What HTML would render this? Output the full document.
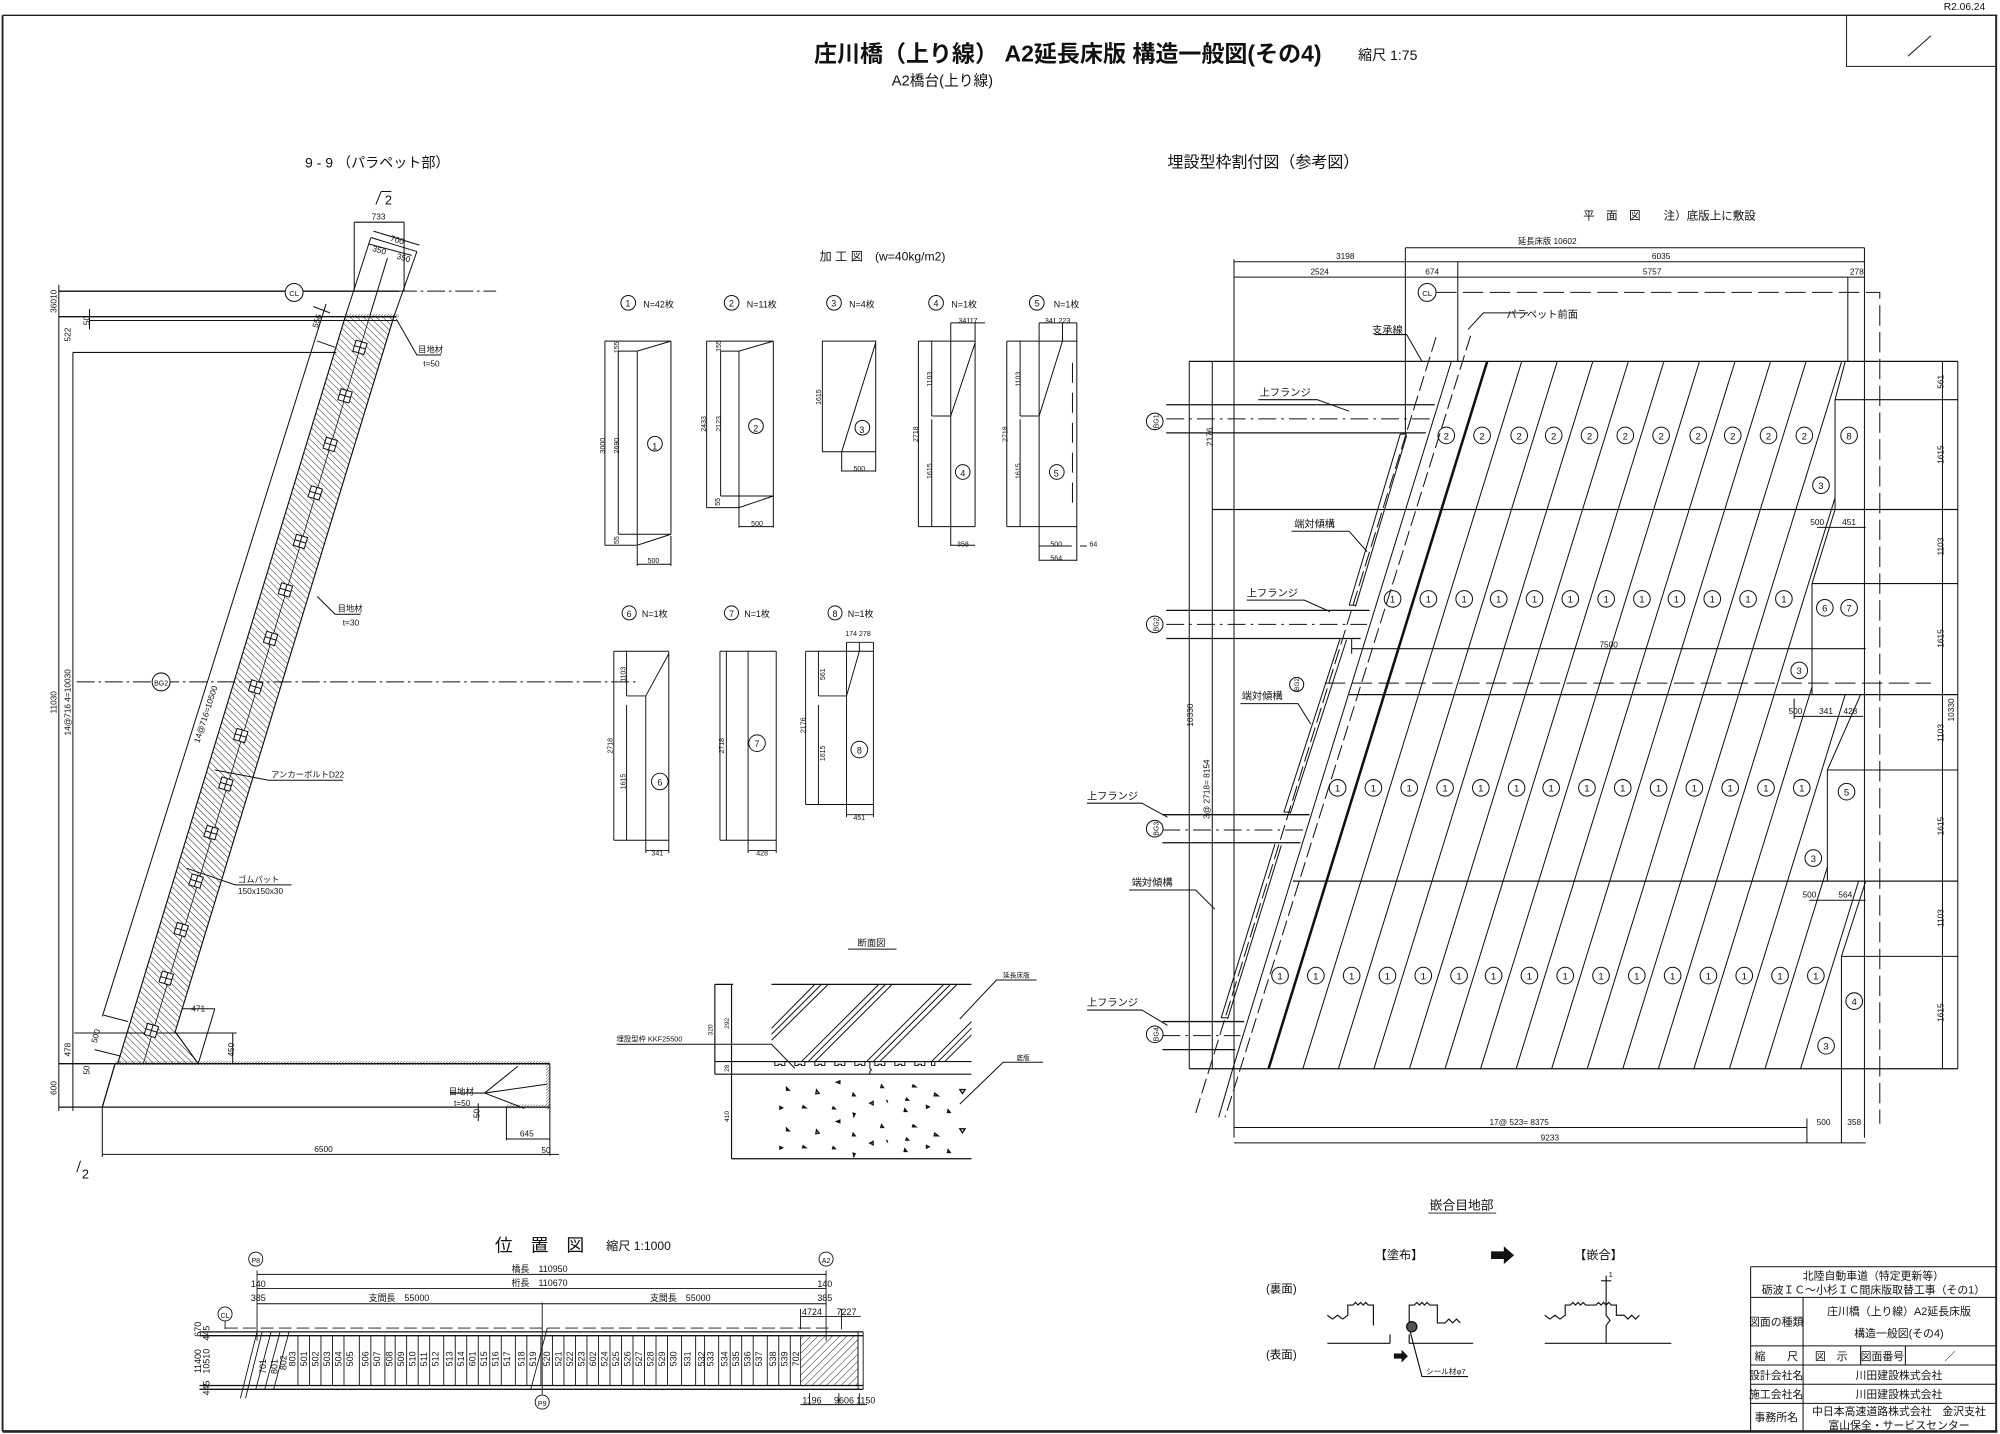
<!DOCTYPE html>
<html><head><meta charset="utf-8"><style>
html,body{margin:0;padding:0;background:#fff;}
svg{display:block;}
text{font-family:"Liberation Sans","Noto Sans CJK JP",sans-serif;fill:#111;}
</style></head><body>
<svg width="2000" height="1434" viewBox="0 0 1564 1123" preserveAspectRatio="none" xmlns="http://www.w3.org/2000/svg">
<defs>
<pattern id="h1" width="3.6" height="3.6" patternUnits="userSpaceOnUse" patternTransform="rotate(-45)"><line x1="0" y1="0" x2="0" y2="3.6" stroke="#111" stroke-width="0.7"/></pattern>
<pattern id="h2" width="4" height="4" patternUnits="userSpaceOnUse" patternTransform="rotate(45)"><line x1="0" y1="0" x2="0" y2="4" stroke="#111" stroke-width="0.7"/></pattern>
<pattern id="h3" width="1.6" height="1.6" patternUnits="userSpaceOnUse" patternTransform="rotate(45)"><line x1="0" y1="0" x2="0" y2="1.6" stroke="#111" stroke-width="0.6"/></pattern>
<clipPath id="deck"><polygon points="1163,283 1443,283 1435,313 1435,399 1417,457 1417,544 1455,544 1429,603 1429,690 1459,690 1440,749 1440,837 992,837"/></clipPath>
</defs>
<rect width="1564" height="1123" fill="#fff"/>
<g fill="none" stroke="#222">
<line x1="2" y1="12" x2="1562" y2="12" stroke-width="1"/>
<line x1="2" y1="12" x2="2" y2="1121" stroke-width="1.5"/>
<line x1="1561" y1="12" x2="1561" y2="1121" stroke-width="1.5"/>
<line x1="2" y1="1121" x2="1562" y2="1121" stroke-width="2"/>
<rect x="1444" y="12" width="117" height="40" stroke-width="0.8"/>
<line x1="1492" y1="44" x2="1510" y2="28" stroke-width="0.8"/>
</g>
<text x="1520" y="8" font-size="8">R2.06.24</text>
<text x="835" y="48" font-size="18" font-weight="bold" text-anchor="middle">庄川橋（上り線） A2延長床版 構造一般図(その4)</text>
<text x="1062" y="47" font-size="11">縮尺 1:75</text>
<text x="737" y="67" font-size="11.5" text-anchor="middle">A2橋台(上り線)</text>

<text x="295" y="131" font-size="11" text-anchor="middle">9 - 9 （パラペット部）</text>
<g fill="none" stroke="#111" stroke-width="0.8">
<path d="M294,160 l4,-10 M298,150 h8"/>
<path d="M60,918 l3,-9"/>
</g>
<text x="301" y="160" font-size="10">2</text>
<text x="64" y="923" font-size="10">2</text>
<polygon points="270,248 308,248 137,808 155,833 92,833" fill="url(#h1)" stroke="#111" stroke-width="0.9"/>
<rect x="270" y="246" width="42" height="3" fill="url(#h3)"/>
<g fill="none" stroke="#111" stroke-width="0.8">
<line x1="46" y1="228" x2="312" y2="228" stroke-width="1.1"/>
<line x1="312" y1="228" x2="388" y2="228" stroke-dasharray="14,3,2,3"/>
<line x1="46" y1="248" x2="310" y2="248" stroke-width="1.1"/>
<line x1="70" y1="251" x2="310" y2="251"/>
<line x1="57" y1="276" x2="263" y2="276"/>
<line x1="46" y1="223" x2="46" y2="870"/>
<line x1="57" y1="276" x2="57" y2="870"/>
<line x1="70" y1="242" x2="70" y2="258"/>
<line x1="290" y1="186" x2="270" y2="248"/>
<line x1="326" y1="197" x2="308" y2="248"/>
<line x1="303" y1="202" x2="289" y2="248"/>
<line x1="290" y1="186" x2="326" y2="197"/>
<line x1="277" y1="174" x2="316" y2="174"/>
<line x1="277" y1="174" x2="277" y2="228"/>
<line x1="316" y1="174" x2="316" y2="228"/>
<line x1="292" y1="181" x2="328" y2="192"/>
<line x1="288" y1="191" x2="322" y2="200"/>
<line x1="289" y1="248" x2="112" y2="833" stroke-width="0.6"/>
<line x1="255" y1="238" x2="80" y2="796"/>
<line x1="245" y1="240" x2="258" y2="245"/>
<line x1="248" y1="267" x2="262" y2="272"/>
<line x1="90" y1="833" x2="80" y2="867" stroke-width="1"/>
<line x1="46" y1="833" x2="430" y2="833" stroke-width="1"/>
<line x1="46" y1="867" x2="430" y2="867" stroke-width="1"/>
<line x1="430" y1="833" x2="430" y2="905"/>
<line x1="80" y1="867" x2="80" y2="906"/>
<line x1="80" y1="904" x2="437" y2="904"/>
<line x1="396" y1="867" x2="396" y2="893"/>
<line x1="396" y1="892" x2="430" y2="892"/>
<line x1="58" y1="809" x2="185" y2="809"/>
<line x1="182" y1="809" x2="182" y2="833"/>
<line x1="142" y1="790" x2="168" y2="790"/>
<line x1="168" y1="790" x2="155" y2="833"/>
<line x1="81" y1="795" x2="100" y2="800"/>
<line x1="74" y1="822" x2="94" y2="827"/>
<line x1="379" y1="856" x2="405" y2="835"/>
<line x1="379" y1="856" x2="428" y2="849"/>
<line x1="379" y1="856" x2="410" y2="868"/>
<line x1="352" y1="856" x2="379" y2="856"/>
<line x1="374" y1="864" x2="374" y2="878"/>
<path d="M310,250 L326,278 H345"/>
<path d="M248,467 L262,481 H282"/>
<path d="M168,603 L210,611 H268"/>
<path d="M146,680 L184,693 H228"/>
<line x1="60" y1="534" x2="500" y2="534" stroke-dasharray="14,3,2,3"/>
<circle cx="126" cy="534" r="7" fill="#fff"/>
<circle cx="230" cy="229" r="7" fill="#fff"/>
</g>
<rect x="90" y="831" width="340" height="3" fill="url(#h3)"/>
<rect x="427" y="833" width="3" height="36" fill="url(#h3)"/>
<rect x="396" y="865" width="34" height="3" fill="url(#h3)"/>
<g fill="#fff" stroke="#111" stroke-width="0.8">
<g transform="translate(281.5,272) rotate(17)"><rect x="-4.5" y="-4.5" width="9" height="9"/><path d="M-4.5,0H4.5M0,-4.5V4.5" fill="none"/></g>
<g transform="translate(269.8,310) rotate(17)"><rect x="-4.5" y="-4.5" width="9" height="9"/><path d="M-4.5,0H4.5M0,-4.5V4.5" fill="none"/></g>
<g transform="translate(258.2,348) rotate(17)"><rect x="-4.5" y="-4.5" width="9" height="9"/><path d="M-4.5,0H4.5M0,-4.5V4.5" fill="none"/></g>
<g transform="translate(246.5,386) rotate(17)"><rect x="-4.5" y="-4.5" width="9" height="9"/><path d="M-4.5,0H4.5M0,-4.5V4.5" fill="none"/></g>
<g transform="translate(234.9,424) rotate(17)"><rect x="-4.5" y="-4.5" width="9" height="9"/><path d="M-4.5,0H4.5M0,-4.5V4.5" fill="none"/></g>
<g transform="translate(223.2,462) rotate(17)"><rect x="-4.5" y="-4.5" width="9" height="9"/><path d="M-4.5,0H4.5M0,-4.5V4.5" fill="none"/></g>
<g transform="translate(211.6,500) rotate(17)"><rect x="-4.5" y="-4.5" width="9" height="9"/><path d="M-4.5,0H4.5M0,-4.5V4.5" fill="none"/></g>
<g transform="translate(199.9,538) rotate(17)"><rect x="-4.5" y="-4.5" width="9" height="9"/><path d="M-4.5,0H4.5M0,-4.5V4.5" fill="none"/></g>
<g transform="translate(188.3,576) rotate(17)"><rect x="-4.5" y="-4.5" width="9" height="9"/><path d="M-4.5,0H4.5M0,-4.5V4.5" fill="none"/></g>
<g transform="translate(176.6,614) rotate(17)"><rect x="-4.5" y="-4.5" width="9" height="9"/><path d="M-4.5,0H4.5M0,-4.5V4.5" fill="none"/></g>
<g transform="translate(165,652) rotate(17)"><rect x="-4.5" y="-4.5" width="9" height="9"/><path d="M-4.5,0H4.5M0,-4.5V4.5" fill="none"/></g>
<g transform="translate(153.3,690) rotate(17)"><rect x="-4.5" y="-4.5" width="9" height="9"/><path d="M-4.5,0H4.5M0,-4.5V4.5" fill="none"/></g>
<g transform="translate(141.7,728) rotate(17)"><rect x="-4.5" y="-4.5" width="9" height="9"/><path d="M-4.5,0H4.5M0,-4.5V4.5" fill="none"/></g>
<g transform="translate(130,766) rotate(17)"><rect x="-4.5" y="-4.5" width="9" height="9"/><path d="M-4.5,0H4.5M0,-4.5V4.5" fill="none"/></g>
<g transform="translate(118.4,807) rotate(17)"><rect x="-4.5" y="-4.5" width="9" height="9"/><path d="M-4.5,0H4.5M0,-4.5V4.5" fill="none"/></g>
</g>
<g font-size="6.5">
<text x="230" y="232" text-anchor="middle" font-size="6">CL</text>
<text x="126" y="537" text-anchor="middle" font-size="5.5">BG2</text>
<text x="296" y="172" text-anchor="middle">733</text>
<text x="310" y="190" text-anchor="middle" transform="rotate(17 310 190)">700</text>
<text x="296" y="198" text-anchor="middle" transform="rotate(17 296 198)">350</text>
<text x="315" y="204" text-anchor="middle" transform="rotate(17 315 204)">350</text>
<text transform="translate(250,252) rotate(-73)" text-anchor="middle">556</text>
<text transform="translate(44,236) rotate(-90)" text-anchor="middle">36010</text>
<text transform="translate(70,251) rotate(-90)" text-anchor="middle">50</text>
<text transform="translate(55,262) rotate(-90)" text-anchor="middle">522</text>
<text transform="translate(44,550) rotate(-90)" text-anchor="middle">11030</text>
<text transform="translate(55,550) rotate(-90)" text-anchor="middle">14@716 4=10030</text>
<text transform="translate(55,822) rotate(-90)" text-anchor="middle">478</text>
<text transform="translate(44,852) rotate(-90)" text-anchor="middle">600</text>
<text transform="translate(70,838) rotate(-90)" text-anchor="middle">50</text>
<text transform="translate(77,812) rotate(-73)" text-anchor="middle">500</text>
<text transform="translate(163,560) rotate(-72)" text-anchor="middle">14@716=10500</text>
<text x="155" y="792" text-anchor="middle">471</text>
<text transform="translate(183,822) rotate(-90)" text-anchor="middle">450</text>
<text x="327" y="276">目地材</text>
<text x="331" y="287">t=50</text>
<text x="264" y="479">目地材</text>
<text x="268" y="490">t=30</text>
<text x="212" y="609">アンカーボルトD22</text>
<text x="186" y="691">ゴムパット</text>
<text x="186" y="700">150x150x30</text>
<text x="351" y="857">目地材</text>
<text x="355" y="866">t=50</text>
<text transform="translate(375,872) rotate(-90)" text-anchor="middle">50</text>
<text x="412" y="890" text-anchor="middle">645</text>
<text x="427" y="903" text-anchor="middle">50</text>
<text x="253" y="902" text-anchor="middle">6500</text>
</g>

<text x="641" y="204" font-size="9.5">加 工 図　(w=40kg/m2)</text>
<g transform="translate(461.3,218.9) scale(0.2608)" fill="none" stroke="#111" stroke-width="3">
<path d="M45,185H243M85,215H142L243,185M45,185V798M85,215V765M142,215V798M243,185V765M85,765H243M45,798H142L243,765M142,800V860M243,770V860M142,855H243"/>
<path d="M350,185H550M392,215H447L550,185M350,185V685M392,215V650M447,215V745M550,185V745M392,650H550M350,685H447L550,650M447,742H550"/>
<path d="M697,185H857V517H697ZM857,190L755,517M755,517V577M857,517V577M755,575H857"/>
<path d="M985,185H1155M985,742H1155M985,185V742M1025,185V410M1025,420V742M1082,130V800M1155,130V742M1025,410H1082L1155,190M1082,130H1185M1082,798H1155"/>
<path d="M1250,185H1460M1250,742H1460M1250,185V742M1290,185V410M1290,420V742M1347,130V845M1417,130V185M1460,130V845M1290,410H1347L1417,185M1347,130H1460M1347,800H1445M1347,843H1460M1470,800H1490"/>
<path d="M1447,250V700" stroke-dasharray="60,30"/>
<circle cx="195" cy="493" r="22"/><circle cx="498" cy="440" r="22"/><circle cx="817" cy="445" r="22"/><circle cx="1118" cy="578" r="22"/><circle cx="1400" cy="578" r="22"/>
<circle cx="115" cy="70" r="22"/><circle cx="425" cy="70" r="22"/><circle cx="732" cy="70" r="22"/><circle cx="1038" cy="70" r="22"/><circle cx="1340" cy="70" r="22"/>
</g>
<g font-size="7">
<text x="512" y="352" text-anchor="middle">1</text><text x="591" y="338" text-anchor="middle">2</text><text x="674" y="339" text-anchor="middle">3</text><text x="753" y="373" text-anchor="middle">4</text><text x="826" y="373" text-anchor="middle">5</text>
<text x="491" y="240" text-anchor="middle">1</text><text x="572" y="240" text-anchor="middle">2</text><text x="652" y="240" text-anchor="middle">3</text><text x="732" y="240" text-anchor="middle">4</text><text x="811" y="240" text-anchor="middle">5</text>
<text x="503" y="241" font-size="7">N=42枚</text><text x="584" y="241" font-size="7">N=11枚</text><text x="664" y="241" font-size="7">N=4枚</text><text x="744" y="241" font-size="7">N=1枚</text><text x="824" y="241" font-size="7">N=1枚</text>
<g font-size="5.5">
<text transform="translate(473,349) rotate(-90)" text-anchor="middle">3000</text>
<text transform="translate(484,349) rotate(-90)" text-anchor="middle">2690</text>
<text transform="translate(484,272) rotate(-90)" text-anchor="middle">155</text>
<text transform="translate(484,423) rotate(-90)" text-anchor="middle">55</text>
<text x="511" y="441" text-anchor="middle">500</text>
<text transform="translate(552,332) rotate(-90)" text-anchor="middle">2433</text>
<text transform="translate(564,332) rotate(-90)" text-anchor="middle">2123</text>
<text transform="translate(564,271) rotate(-90)" text-anchor="middle">155</text>
<text transform="translate(563,393) rotate(-90)" text-anchor="middle">55</text>
<text x="592" y="412" text-anchor="middle">500</text>
<text transform="translate(642,311) rotate(-90)" text-anchor="middle">1615</text>
<text x="672" y="369" text-anchor="middle">500</text>
<text x="757" y="253" text-anchor="middle">34117</text>
<text transform="translate(729,297) rotate(-90)" text-anchor="middle">1103</text>
<text transform="translate(718,340) rotate(-90)" text-anchor="middle">2718</text>
<text transform="translate(729,369) rotate(-90)" text-anchor="middle">1615</text>
<text x="753" y="428" text-anchor="middle">358</text>
<text x="827" y="253" text-anchor="middle">341 223</text>
<text transform="translate(798,297) rotate(-90)" text-anchor="middle">1103</text>
<text transform="translate(788,340) rotate(-90)" text-anchor="middle">2718</text>
<text transform="translate(798,369) rotate(-90)" text-anchor="middle">1615</text>
<text x="826" y="428" text-anchor="middle">500</text>
<text x="826" y="439" text-anchor="middle">564</text>
<text x="855" y="428" text-anchor="middle">64</text>
</g>
</g>
<g fill="none" stroke="#111" stroke-width="0.75">
<path d="M480,510H523M480,658H523M480,510V658M490,510V545M490,552V658M505,545V668M523,510V668M490,545H505L523,512M505,666H523"/>
<path d="M563,510H607M563,658H607M563,510V658M568,510V658M585,510V668M607,510V668M585,666H607"/>
<path d="M630,510H683M630,630H683M630,510V630M640,510V545M640,552V630M662,503V640M683,503V640M640,545H662L672,510M672,503V510M662,503H683M662,638H683"/>
<circle cx="516" cy="612" r="6.5"/><circle cx="592" cy="582" r="6.5"/><circle cx="672" cy="587" r="6.5"/>
<circle cx="492" cy="480" r="5.5"/><circle cx="572" cy="480" r="5.5"/><circle cx="653" cy="480" r="5.5"/>
</g>
<g font-size="7">
<text x="516" y="615" text-anchor="middle">6</text><text x="592" y="585" text-anchor="middle">7</text><text x="672" y="590" text-anchor="middle">8</text>
<text x="492" y="483" text-anchor="middle">6</text><text x="572" y="483" text-anchor="middle">7</text><text x="653" y="483" text-anchor="middle">8</text>
<text x="502" y="483">N=1枚</text><text x="582" y="483">N=1枚</text><text x="663" y="483">N=1枚</text>
<g font-size="5.5">
<text transform="translate(489,528) rotate(-90)" text-anchor="middle">1103</text>
<text transform="translate(479,584) rotate(-90)" text-anchor="middle">2718</text>
<text transform="translate(489,612) rotate(-90)" text-anchor="middle">1615</text>
<text x="514" y="670" text-anchor="middle">341</text>
<text transform="translate(566,584) rotate(-90)" text-anchor="middle">2718</text>
<text x="596" y="670" text-anchor="middle">428</text>
<text x="671" y="498" text-anchor="middle">174 278</text>
<text transform="translate(645,528) rotate(-90)" text-anchor="middle">561</text>
<text transform="translate(630,568) rotate(-90)" text-anchor="middle">2176</text>
<text transform="translate(645,590) rotate(-90)" text-anchor="middle">1615</text>
<text x="672" y="642" text-anchor="middle">451</text>
</g>
</g>

<g transform="translate(547.3,727.1) scale(0.2606)">
<text x="515" y="52" font-size="28" text-anchor="middle">断面図</text>
<g fill="none" stroke="#111" stroke-width="3">
<path d="M445,62H590"/>
<path d="M215,168H815M45,168H100M45,400H815M45,438H815M95,692H815M45,168V438M95,168V692" stroke-width="3.5"/>
<path d="M215,300L345,168M215,318L365,168M215,336L385,168"/>
<path d="M305,400L537,168M325,400L557,168M345,400L577,168"/>
<path d="M500,400L732,168M520,400L752,168M540,400L772,168"/>
<path d="M695,400L815,280M715,400L815,300M735,400L815,320"/>
<path d="M215,400h10v12h10v-4h10v4h10v-12h30v12h10v-4h10v4h10v-12h30v12h10v-4h10v4h10v-12h30v12h10v-4h10v4h10v-12h30v12h10v-4h10v4h10v-12h30v12h10v-4h10v4h10v-12h30v12h10v-4h10v4h10v-12h30v12h10v-4h10v4h10v-12h20v12h10v-12"/>
<path d="M510,400v20l5,5l-5,5v8"/>
<path d="M-250,348H215L285,420"/>
<path d="M1010,155H890L780,272M1030,402H910L780,528"/>
</g>
<g fill="none" stroke="#111" stroke-width="4">
<path d="M260,478l8,8h-8zM350,485l8,10l-10,2zM410,462l10,-4v8zM460,495l6,8h-8zM545,470l6,8h-8zM640,470l8,6h-10zM705,495l10,8h-12zM780,484h16l-8,12zM240,535l8,4l-8,4zM310,533l8,6h-10zM400,536l6,6h-8zM460,555l6,2l-4,8zM510,525l10,-5v10zM560,515l4,8M620,510l6,6h-8zM615,542l6,8h-8zM680,532l8,4l-8,4zM745,545l6,8h-8z"/>
<path d="M260,600l8,8h-8zM350,605l8,10l-10,2zM410,580l10,-4v8zM460,615l6,8h-8zM545,590l6,8h-8zM640,590l8,6h-10zM705,615l10,8h-12zM780,602h16l-8,12zM240,655l8,4l-8,4zM310,653l8,6h-10zM400,656l6,6h-8zM460,675l6,2l-4,8zM510,645l10,-5v10zM560,635l4,8M620,630l6,6h-8zM615,662l6,8h-8zM680,652l8,4l-8,4zM745,665l6,8h-8z"/>
</g>
<g font-size="20">
<text x="950" y="148" text-anchor="middle">延長床版</text>
<text x="970" y="395" text-anchor="middle">底版</text>
<text transform="translate(88,285) rotate(-90)" text-anchor="middle">292</text>
<text transform="translate(38,305) rotate(-90)" text-anchor="middle">320</text>
<text transform="translate(88,420) rotate(-90)" text-anchor="middle">28</text>
<text transform="translate(88,565) rotate(-90)" text-anchor="middle">410</text>
<text x="-250" y="340" font-size="22">埋設型枠 KKF25500</text>
</g>
</g>

<text x="387" y="980" font-size="14">位　置　図</text>
<text x="474" y="979" font-size="9.5">縮尺 1:1000</text>
<g fill="none" stroke="#111" stroke-width="0.7">
<circle cx="200" cy="986" r="5.5"/><circle cx="646" cy="986" r="5.5"/><circle cx="424" cy="1098" r="5.5"/><circle cx="176" cy="1029" r="5.5"/>
<path d="M201,998H646M201,1009H646M201,1021H646M201,995V1050M646,995V1050M176,1035V1041M626,1031H673M626,1025V1041M658,1025V1041"/>
<path d="M176,1040H652" stroke-dasharray="10,4"/>
<path d="M156,1043H675M156,1088H675M156,1046H675M156,1085H675" stroke-width="1"/>
<path d="M675,1043V1088M671,1043V1088"/>
<path d="M201,1043L188,1095M205,1043L192,1095M212,1043L200,1088M219,1043L207,1088M226,1043L214,1088"/>
<path d="M424,1092L424,1020M428,1040L415,1088"/>
<path d="M233,1046V1085M242,1046V1085M251,1046V1085M260,1046V1085M269,1046V1085M281,1046V1085M290,1046V1085M301,1046V1085M309,1046V1085M318,1046V1085M327,1046V1085M336,1046V1085M347,1046V1085M356,1046V1085M365,1046V1085M374,1046V1085M383,1046V1085M392,1046V1085M403,1046V1085M412,1046V1085M423,1046V1085M432,1046V1085M441,1046V1085M450,1046V1085M459,1046V1085M468,1046V1085M477,1046V1085M486,1046V1085M495,1046V1085M504,1046V1085M513,1046V1085M522,1046V1085M533,1046V1085M544,1046V1085M551,1046V1085M562,1046V1085M571,1046V1085M580,1046V1085M589,1046V1085M600,1046V1085M609,1046V1085M618,1046V1085"/>
<path d="M633,1091V1100M656,1091V1100M672,1091V1100M626,1100H678"/>
</g>
<polygon points="626,1046 671,1046 671,1085 626,1085" fill="url(#h2)" stroke="#111" stroke-width="0.6"/>
<g font-size="7">
<text x="200" y="989" text-anchor="middle" font-size="5.5">P8</text><text x="646" y="989" text-anchor="middle" font-size="5.5">A2</text><text x="424" y="1101" text-anchor="middle" font-size="5.5">P9</text><text x="176" y="1032" text-anchor="middle" font-size="5.5">CL</text>
<text x="422" y="996" text-anchor="middle">橋長　110950</text>
<text x="422" y="1007" text-anchor="middle">桁長　110670</text>
<text x="312" y="1019" text-anchor="middle">支間長　55000</text>
<text x="532" y="1019" text-anchor="middle">支間長　55000</text>
<text x="202" y="1008" text-anchor="middle">140</text><text x="645" y="1008" text-anchor="middle">140</text>
<text x="202" y="1019" text-anchor="middle">385</text><text x="645" y="1019" text-anchor="middle">385</text>
<text x="635" y="1030" text-anchor="middle">4724</text><text x="662" y="1030" text-anchor="middle">7227</text>
<text x="635" y="1099" text-anchor="middle">1196</text><text x="660" y="1099" text-anchor="middle">9606</text><text x="677" y="1099" text-anchor="middle">1150</text>
<text transform="translate(157,1041) rotate(-90)" text-anchor="middle">670</text>
<text transform="translate(164,1044) rotate(-90)" text-anchor="middle">445</text>
<text transform="translate(157,1066) rotate(-90)" text-anchor="middle">11400</text>
<text transform="translate(164,1066) rotate(-90)" text-anchor="middle">10510</text>
<text transform="translate(164,1087) rotate(-90)" text-anchor="middle">445</text>
</g>
<g font-size="7">
<text transform="translate(208,1076) rotate(-90)">701</text><text transform="translate(217,1076) rotate(-90)">801</text><text transform="translate(224,1073) rotate(-90)">802</text><text transform="translate(231,1070) rotate(-90)">803</text>
<text transform="translate(240,1070) rotate(-90)">501</text><text transform="translate(249,1070) rotate(-90)">502</text><text transform="translate(258,1070) rotate(-90)">503</text><text transform="translate(267,1070) rotate(-90)">504</text><text transform="translate(276,1070) rotate(-90)">505</text><text transform="translate(288,1070) rotate(-90)">506</text><text transform="translate(297,1070) rotate(-90)">507</text><text transform="translate(307,1070) rotate(-90)">508</text><text transform="translate(316,1070) rotate(-90)">509</text><text transform="translate(325,1070) rotate(-90)">510</text><text transform="translate(334,1070) rotate(-90)">511</text><text transform="translate(343,1070) rotate(-90)">512</text><text transform="translate(354,1070) rotate(-90)">513</text><text transform="translate(363,1070) rotate(-90)">514</text><text transform="translate(372,1070) rotate(-90)">601</text><text transform="translate(381,1070) rotate(-90)">515</text><text transform="translate(390,1070) rotate(-90)">516</text><text transform="translate(399,1070) rotate(-90)">517</text><text transform="translate(410,1070) rotate(-90)">518</text><text transform="translate(419,1070) rotate(-90)">519</text><text transform="translate(430,1070) rotate(-90)">520</text><text transform="translate(439,1070) rotate(-90)">521</text><text transform="translate(448,1070) rotate(-90)">522</text><text transform="translate(457,1070) rotate(-90)">523</text><text transform="translate(466,1070) rotate(-90)">602</text><text transform="translate(475,1070) rotate(-90)">524</text><text transform="translate(484,1070) rotate(-90)">525</text><text transform="translate(493,1070) rotate(-90)">526</text><text transform="translate(502,1070) rotate(-90)">527</text><text transform="translate(511,1070) rotate(-90)">528</text><text transform="translate(520,1070) rotate(-90)">529</text><text transform="translate(529,1070) rotate(-90)">530</text><text transform="translate(540,1070) rotate(-90)">531</text><text transform="translate(551,1070) rotate(-90)">532</text><text transform="translate(558,1070) rotate(-90)">533</text><text transform="translate(569,1070) rotate(-90)">534</text><text transform="translate(578,1070) rotate(-90)">535</text><text transform="translate(587,1070) rotate(-90)">536</text><text transform="translate(596,1070) rotate(-90)">537</text><text transform="translate(607,1070) rotate(-90)">538</text><text transform="translate(616,1070) rotate(-90)">539</text><text transform="translate(625,1070) rotate(-90)">702</text>
</g>

<text x="988" y="131" font-size="12.5" text-anchor="middle">埋設型枠割付図（参考図）</text>
<text x="1238" y="172" font-size="9">平　面　図　　注）底版上に敷設</text>
<g fill="none" stroke="#111" stroke-width="0.8">
<path d="M1099,194H1458M965,205H1458M965,217H1458M965,203V891M1099,194V340M1140,205V283M1445,217V283M1458,194V891"/>
<path d="M930,283H1531M948,399H1531M1055,544H1531M1011,690H1531M930,837H1531" stroke-width="1"/>
<path d="M930,283V837M948,283V837M1519,283V837M1531,283V837" />
<path d="M1435,313H1531M1417,457H1531M1429,603H1531M1440,749H1531"/>
<path d="M1443,283L1435,313V399L1417,457V544M1455,544L1429,603V690M1459,690L1440,749V837"/>
<path d="M1123,229H1470V880" stroke-dasharray="16,5"/>
<path d="M1036,535H1510" stroke-dasharray="16,5"/>
<path d="M1057,508H1459M1057,500V512"/>
<path d="M965,883H1413M1413,876V895M1440,837V895M965,895H1459M1403,561H1457M1403,547V563M1415,705H1459M1421,413H1459"/>
<g clip-path="url(#deck)">
<path d="M1190,283L1018.8,837M1217.8,283L1046.6,837M1245.6,283L1074.4,837M1273.4,283L1102.2,837M1301.2,283L1130,837M1329,283L1157.8,837M1356.8,283L1185.6,837M1384.6,283L1213.4,837M1412.4,283L1241.2,837M1440.2,283L1269,837M1468,283L1296.8,837M1495.8,283L1324.6,837M1523.6,283L1352.4,837M1551.4,283L1380.2,837M1579.2,283L1408,837"/>
</g>
<path d="M1163,283L992,837" stroke-width="2"/>
<path d="M1135,283L964,837L953,875" />
<path d="M1123,264L934,875M1150,263L958,875" stroke-dasharray="12,4"/>
<path d="M1148,258L1160,245H1195"/>
<path d="M1112,283L1100,262H1075"/>
<path d="M1095,340L1055,474M1100,341L1060,475M1055,474H1060M1095,340H1100"/>
<path d="M1048,500L1004,636M1053,501L1009,637M1004,636h5"/>
<path d="M997,661L955,797M1002,662L960,798M955,797h5"/>
<path d="M912,317H1122M912,339H1115M912,478H1071M912,500H1064M909,638H1024M909,660H1017M909,800H973M909,822H966" stroke-width="1"/>
<path d="M912,328H1120M912,489H1069M909,650H1020M909,811H970" stroke-dasharray="14,4,2,4"/>
<circle cx="903" cy="330" r="6.5" fill="#fff"/><circle cx="903" cy="489" r="6.5" fill="#fff"/><circle cx="903" cy="649" r="6.5" fill="#fff"/><circle cx="903" cy="810" r="6.5" fill="#fff"/>
<circle cx="1116" cy="229" r="7" fill="#fff"/>
<circle cx="1014" cy="536" r="5.5" fill="#fff"/>
<path d="M984,313H1030L1055,322M975,470H1020L1040,479M850,629H893L913,640M850,791H893L913,803"/>
<path d="M1010,416H1055L1069,432M970,551H1015L1025,567M883,697H935L950,712"/>
<g stroke-width="0.8">
<circle cx="1131" cy="341" r="6.5"/><circle cx="1159" cy="341" r="6.5"/><circle cx="1188" cy="341" r="6.5"/><circle cx="1215" cy="341" r="6.5"/><circle cx="1243" cy="341" r="6.5"/><circle cx="1271" cy="341" r="6.5"/><circle cx="1299" cy="341" r="6.5"/><circle cx="1328" cy="341" r="6.5"/><circle cx="1355" cy="341" r="6.5"/><circle cx="1383" cy="341" r="6.5"/><circle cx="1411" cy="341" r="6.5"/><circle cx="1446" cy="341" r="6.5"/><circle cx="1424" cy="380" r="6.5"/>
<circle cx="1089" cy="469" r="6.5"/><circle cx="1117" cy="469" r="6.5"/><circle cx="1145" cy="469" r="6.5"/><circle cx="1172" cy="469" r="6.5"/><circle cx="1200" cy="469" r="6.5"/><circle cx="1228" cy="469" r="6.5"/><circle cx="1256" cy="469" r="6.5"/><circle cx="1284" cy="469" r="6.5"/><circle cx="1311" cy="469" r="6.5"/><circle cx="1339" cy="469" r="6.5"/><circle cx="1367" cy="469" r="6.5"/><circle cx="1395" cy="469" r="6.5"/><circle cx="1427" cy="476" r="6.5"/><circle cx="1446" cy="476" r="6.5"/>
<circle cx="1407" cy="525" r="6.5"/>
<circle cx="1046" cy="617" r="6.5"/><circle cx="1074" cy="617" r="6.5"/><circle cx="1102" cy="617" r="6.5"/><circle cx="1130" cy="617" r="6.5"/><circle cx="1158" cy="617" r="6.5"/><circle cx="1186" cy="617" r="6.5"/><circle cx="1213" cy="617" r="6.5"/><circle cx="1241" cy="617" r="6.5"/><circle cx="1269" cy="617" r="6.5"/><circle cx="1297" cy="617" r="6.5"/><circle cx="1325" cy="617" r="6.5"/><circle cx="1353" cy="617" r="6.5"/><circle cx="1381" cy="617" r="6.5"/><circle cx="1409" cy="617" r="6.5"/><circle cx="1444" cy="620" r="6.5"/><circle cx="1418" cy="672" r="6.5"/>
<circle cx="1001" cy="764" r="6.5"/><circle cx="1029" cy="764" r="6.5"/><circle cx="1057" cy="764" r="6.5"/><circle cx="1085" cy="764" r="6.5"/><circle cx="1113" cy="764" r="6.5"/><circle cx="1141" cy="764" r="6.5"/><circle cx="1168" cy="764" r="6.5"/><circle cx="1196" cy="764" r="6.5"/><circle cx="1224" cy="764" r="6.5"/><circle cx="1252" cy="764" r="6.5"/><circle cx="1280" cy="764" r="6.5"/><circle cx="1308" cy="764" r="6.5"/><circle cx="1336" cy="764" r="6.5"/><circle cx="1364" cy="764" r="6.5"/><circle cx="1392" cy="764" r="6.5"/><circle cx="1420" cy="764" r="6.5"/><circle cx="1450" cy="784" r="6.5"/><circle cx="1428" cy="819" r="6.5"/>
</g>
</g>
<g font-size="7.5" text-anchor="middle">
<text x="1131" y="344">2</text><text x="1159" y="344">2</text><text x="1188" y="344">2</text><text x="1215" y="344">2</text><text x="1243" y="344">2</text><text x="1271" y="344">2</text><text x="1299" y="344">2</text><text x="1328" y="344">2</text><text x="1355" y="344">2</text><text x="1383" y="344">2</text><text x="1411" y="344">2</text><text x="1446" y="344">8</text><text x="1424" y="383">3</text>
<text x="1089" y="472">1</text><text x="1117" y="472">1</text><text x="1145" y="472">1</text><text x="1172" y="472">1</text><text x="1200" y="472">1</text><text x="1228" y="472">1</text><text x="1256" y="472">1</text><text x="1284" y="472">1</text><text x="1311" y="472">1</text><text x="1339" y="472">1</text><text x="1367" y="472">1</text><text x="1395" y="472">1</text><text x="1427" y="479">6</text><text x="1446" y="479">7</text>
<text x="1407" y="528">3</text>
<text x="1046" y="620">1</text><text x="1074" y="620">1</text><text x="1102" y="620">1</text><text x="1130" y="620">1</text><text x="1158" y="620">1</text><text x="1186" y="620">1</text><text x="1213" y="620">1</text><text x="1241" y="620">1</text><text x="1269" y="620">1</text><text x="1297" y="620">1</text><text x="1325" y="620">1</text><text x="1353" y="620">1</text><text x="1381" y="620">1</text><text x="1409" y="620">1</text><text x="1444" y="623">5</text><text x="1418" y="675">3</text>
<text x="1001" y="767">1</text><text x="1029" y="767">1</text><text x="1057" y="767">1</text><text x="1085" y="767">1</text><text x="1113" y="767">1</text><text x="1141" y="767">1</text><text x="1168" y="767">1</text><text x="1196" y="767">1</text><text x="1224" y="767">1</text><text x="1252" y="767">1</text><text x="1280" y="767">1</text><text x="1308" y="767">1</text><text x="1336" y="767">1</text><text x="1364" y="767">1</text><text x="1392" y="767">1</text><text x="1420" y="767">1</text><text x="1450" y="787">4</text><text x="1428" y="822">3</text>
</g>
<g font-size="6.5">
<text x="1210" y="191" text-anchor="middle">延長床版 10602</text>
<text x="1052" y="203" text-anchor="middle">3198</text><text x="1299" y="203" text-anchor="middle">6035</text>
<text x="1032" y="215" text-anchor="middle">2524</text><text x="1120" y="215" text-anchor="middle">674</text><text x="1292" y="215" text-anchor="middle">5757</text><text x="1452" y="215" text-anchor="middle">278</text>
<text x="1116" y="232" text-anchor="middle" font-size="6">CL</text>
<text x="1178" y="249" font-size="8">パラペット前面</text>
<text x="1073" y="261" font-size="8">支承線</text>
<text x="985" y="310" font-size="8">上フランジ</text>
<text x="975" y="467" font-size="8">上フランジ</text>
<text x="850" y="626" font-size="8">上フランジ</text>
<text x="850" y="788" font-size="8">上フランジ</text>
<text x="1012" y="413" font-size="8">端対傾構</text>
<text x="971" y="548" font-size="8">端対傾構</text>
<text x="885" y="694" font-size="8">端対傾構</text>
<text x="903" y="333" text-anchor="middle" font-size="5.5" transform="rotate(-90 903 330)">BG1</text>
<text x="903" y="492" text-anchor="middle" font-size="5.5" transform="rotate(-90 903 489)">BG2</text>
<text x="903" y="652" text-anchor="middle" font-size="5.5" transform="rotate(-90 903 649)">BG3</text>
<text x="903" y="813" text-anchor="middle" font-size="5.5" transform="rotate(-90 903 810)">BG4</text>
<text x="1014" y="538" text-anchor="middle" font-size="5" transform="rotate(-90 1014 536)">BG2</text>
<text x="1258" y="507" text-anchor="middle">7500</text>
<text x="1404" y="559" text-anchor="middle">500</text><text x="1428" y="559" text-anchor="middle">341</text><text x="1447" y="559" text-anchor="middle">428</text>
<text x="1415" y="703" text-anchor="middle">500</text><text x="1443" y="703" text-anchor="middle">564</text>
<text x="1421" y="411" text-anchor="middle">500</text><text x="1446" y="411" text-anchor="middle">451</text>
<text x="1188" y="881" text-anchor="middle">17@ 523= 8375</text>
<text x="1426" y="881" text-anchor="middle">500</text><text x="1450" y="881" text-anchor="middle">358</text>
<text x="1212" y="893" text-anchor="middle">9233</text>
<text transform="translate(948,342) rotate(-90)" text-anchor="middle">2176</text>
<text transform="translate(933,560) rotate(-90)" text-anchor="middle">10330</text>
<text transform="translate(946,618) rotate(-90)" text-anchor="middle">3@ 2718= 8154</text>
<text transform="translate(1528,556) rotate(-90)" text-anchor="middle">10330</text>
<text transform="translate(1520,299) rotate(-90)" text-anchor="middle">561</text>
<text transform="translate(1520,356) rotate(-90)" text-anchor="middle">1615</text>
<text transform="translate(1520,428) rotate(-90)" text-anchor="middle">1103</text>
<text transform="translate(1520,500) rotate(-90)" text-anchor="middle">1615</text>
<text transform="translate(1520,574) rotate(-90)" text-anchor="middle">1103</text>
<text transform="translate(1520,647) rotate(-90)" text-anchor="middle">1615</text>
<text transform="translate(1520,719) rotate(-90)" text-anchor="middle">1103</text>
<text transform="translate(1520,793) rotate(-90)" text-anchor="middle">1615</text>
</g>

<text x="1143" y="947" font-size="10" text-anchor="middle">嵌合目地部</text>
<line x1="1117" y1="950" x2="1170" y2="950" stroke="#111" stroke-width="0.7"/>
<text x="1094" y="986" font-size="9.5" text-anchor="middle">【塗布】</text>
<text x="1250" y="986" font-size="9.5" text-anchor="middle">【嵌合】</text>
<path d="M1166,980h10v-4l8,7l-8,7v-4h-10z" fill="#111"/>
<path d="M1090,1060h6v-3l5,5l-5,5v-3h-6z" fill="#111"/>
<text x="990" y="1012" font-size="9">(裏面)</text>
<text x="990" y="1064" font-size="9">(表面)</text>
<g fill="none" stroke="#111" stroke-width="0.9">
<path d="M1038,1030l4,3l4,-3l4,3l4,-3v-8h4l2,-2l2,2l2,-2l2,2l2,-2l2,2h4v16"/>
<path d="M1102,1038v-16h4l2,-2l2,2l2,-2l2,2l2,-2l2,2h6v14h6l3,-3l3,3l3,-3l3,3"/>
<path d="M1038,1052H1087M1102,1052H1152M1087,1052V1045M1102,1052V1045"/>
<path d="M1102,1040L1112,1078H1148"/>
<path d="M1208,1030l4,3l4,-3l4,3l4,-3v-8h4l2,-2l2,2l2,-2l2,2l2,-2l2,2h8l2,-2l2,2l2,-2l2,2l2,-2l2,2h4v8h6l3,3l3,-3l3,3l3,-3"/>
<path d="M1208,1052H1307M1256,999V1030l3,4l-3,4V1052M1252,1003h8"/>
</g>
<circle cx="1104" cy="1039" r="4" fill="#555" stroke="#111"/>
<text x="1115" y="1076" font-size="6">シール材φ7</text>
<text x="1258" y="1000" font-size="6">1</text>

<g fill="none" stroke="#111" stroke-width="0.8">
<path d="M1369,992H1561M1369,1016H1561M1369,1054H1561M1369,1069H1561M1369,1084H1561M1369,1099H1561M1369,992V1121M1410,1016V1121M1455,1054V1069M1490,1054V1069"/>
</g>
<g font-size="8.5" text-anchor="middle">
<text x="1465" y="1002">北陸自動車道（特定更新等）</text>
<text x="1465" y="1013">砺波ＩＣ～小杉ＩＣ間床版取替工事（その1）</text>
<text x="1389" y="1038">図面の種類</text>
<text x="1485" y="1030">庄川橋（上り線）A2延長床版</text>
<text x="1485" y="1047">構造一般図(その4)</text>
<text x="1389" y="1065">縮　　尺</text>
<text x="1432" y="1065">図　示</text>
<text x="1472" y="1065">図面番号</text>
<text x="1525" y="1065">／</text>
<text x="1389" y="1080">設計会社名</text>
<text x="1485" y="1080">川田建設株式会社</text>
<text x="1389" y="1095">施工会社名</text>
<text x="1485" y="1095">川田建設株式会社</text>
<text x="1389" y="1113">事務所名</text>
<text x="1485" y="1108">中日本高速道路株式会社　金沢支社</text>
<text x="1485" y="1119">富山保全・サービスセンター</text>
</g>
</svg>
</body></html>
